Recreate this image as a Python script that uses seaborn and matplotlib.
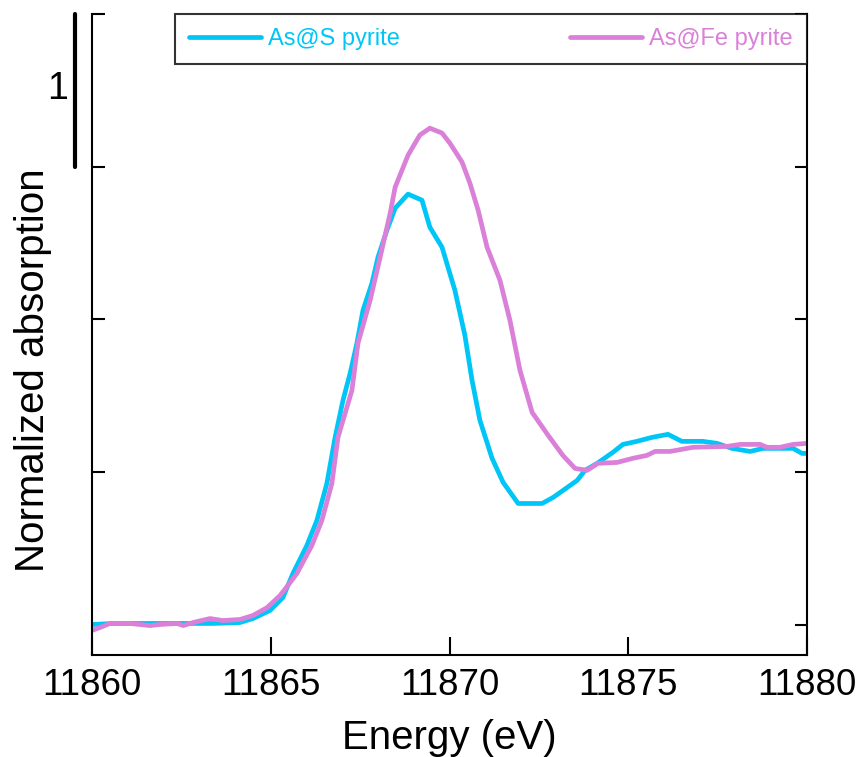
import matplotlib
matplotlib.use("Agg")
import matplotlib.pyplot as plt
import seaborn as sns

# As@S pyrite
energy_s = [11860.00, 11860.59, 11861.54, 11862.46, 11863.38, 11864.14, 11864.50, 11864.98,
            11865.34, 11865.62, 11866.01, 11866.29, 11866.57, 11866.80, 11867.02, 11867.22,
            11867.41, 11867.58, 11867.83, 11868.00, 11868.25, 11868.48, 11868.84, 11869.23,
            11869.45, 11869.79, 11870.15, 11870.43, 11870.63, 11870.85, 11871.19, 11871.50,
            11871.92, 11872.59, 11872.90, 11873.57, 11873.79, 11874.13, 11874.57, 11874.85,
            11875.24, 11875.66, 11876.11, 11876.50, 11877.09, 11877.48, 11877.90, 11878.41,
            11878.77, 11879.61, 11879.86, 11880.00]
mu_s = [0.000, 0.007, 0.007, 0.007, 0.007, 0.013, 0.039, 0.092,
        0.177, 0.334, 0.518, 0.682, 0.925, 1.226, 1.469, 1.646,
        1.843, 2.059, 2.236, 2.407, 2.584, 2.728, 2.820, 2.780,
        2.603, 2.472, 2.190, 1.895, 1.600, 1.338, 1.089, 0.931,
        0.793, 0.793, 0.833, 0.944, 1.010, 1.056, 1.128, 1.180,
        1.200, 1.226, 1.246, 1.200, 1.200, 1.187, 1.154, 1.134,
        1.154, 1.154, 1.121, 1.121]

# As@Fe pyrite
energy_fe = [11860.00, 11860.22, 11860.50, 11861.06, 11861.62, 11861.90, 11862.38, 11862.55,
             11862.83, 11863.30, 11863.66, 11864.14, 11864.50, 11864.90, 11865.26, 11865.48,
             11865.73, 11866.15, 11866.43, 11866.71, 11866.88, 11867.27, 11867.44, 11867.78,
             11868.06, 11868.34, 11868.48, 11868.84, 11869.17, 11869.45, 11869.79, 11870.01,
             11870.35, 11870.57, 11870.80, 11871.05, 11871.41, 11871.69, 11871.97, 11872.31,
             11872.76, 11873.17, 11873.51, 11873.85, 11874.15, 11874.69, 11875.13, 11875.52,
             11875.75, 11876.17, 11876.81, 11877.76, 11878.13, 11878.69, 11878.88, 11879.24,
             11879.61, 11880.00]
mu_fe = [-0.039, -0.020, 0.007, 0.007, -0.007, 0.000, 0.007, -0.007,
         0.013, 0.039, 0.026, 0.033, 0.059, 0.111, 0.190, 0.256,
         0.334, 0.518, 0.682, 0.925, 1.226, 1.534, 1.843, 2.125,
         2.407, 2.695, 2.866, 3.075, 3.207, 3.252, 3.220, 3.154,
         3.030, 2.892, 2.715, 2.472, 2.256, 1.993, 1.666, 1.390,
         1.239, 1.108, 1.023, 1.010, 1.056, 1.062, 1.089, 1.108,
         1.134, 1.134, 1.161, 1.167, 1.180, 1.180, 1.161, 1.161,
         1.180, 1.187]

x_ticks = [11860, 11865, 11870, 11875, 11880]
y_ticks = [0, 1, 2, 3, 4]

col_s = '#00C6F8'
col_fe = '#DA80D8'

sns.set_style('ticks')
plt.rcParams['font.family'] = ['Liberation Sans', 'DejaVu Sans']
plt.rcParams['text.color'] = 'black'
plt.rcParams['axes.labelcolor'] = 'black'
plt.rcParams['xtick.color'] = 'black'
plt.rcParams['ytick.color'] = 'black'
plt.rcParams['axes.edgecolor'] = 'black'

fig = plt.figure(figsize=(8.59, 7.57), dpi=100)
ax = fig.add_axes([0.1071, 0.1347, 0.8324, 0.8468])

sns.lineplot(x=energy_s, y=mu_s, ax=ax, color=col_s, lw=3.4, label='As@S pyrite', sort=False)
sns.lineplot(x=energy_fe, y=mu_fe, ax=ax, color=col_fe, lw=3.4, label='As@Fe pyrite', sort=False)

ax.set_xlim(11860, 11880)
ax.set_ylim(-0.2, 4)
ax.set_xticks(x_ticks)
ax.set_xticklabels([str(t) for t in x_ticks], fontsize=26.5)
ax.set_yticks(y_ticks)
ax.set_yticklabels([])
ax.tick_params(axis='x', direction='in', length=13, width=1.5, pad=9)
ax.tick_params(axis='y', direction='in', length=9, width=1.5, left=True, right=True)

ax.spines['top'].set_visible(False)
for s in ['left', 'right', 'bottom']:
    ax.spines[s].set_linewidth(1.5)

ax.set_xlabel('Energy (eV)', fontsize=29, labelpad=12)
ax.set_ylabel('Normalized absorption', fontsize=29)
ax.yaxis.set_label_coords(-0.056, 0.445)

# scale bar
trans = ax.get_yaxis_transform()
ax.plot([-0.024, -0.024], [3.0, 4.0], color='black', lw=3, transform=trans, clip_on=False)
ax.text(-0.048, 3.51, '1', fontsize=27, ha='center', va='center', transform=trans)

leg = ax.legend(loc='upper right', bbox_to_anchor=(1.0, 1.0), borderaxespad=0, ncol=2,
                frameon=True, fancybox=False, edgecolor='black', handlelength=3.05,
                handletextpad=0.3, columnspacing=7.2, borderpad=0.6,
                prop={'size': 17})
leg.get_frame().set_linewidth(1.5)
for txt, c in zip(leg.get_texts(), [col_s, col_fe]):
    txt.set_color(c)

fig.savefig('out.png', dpi=100)
